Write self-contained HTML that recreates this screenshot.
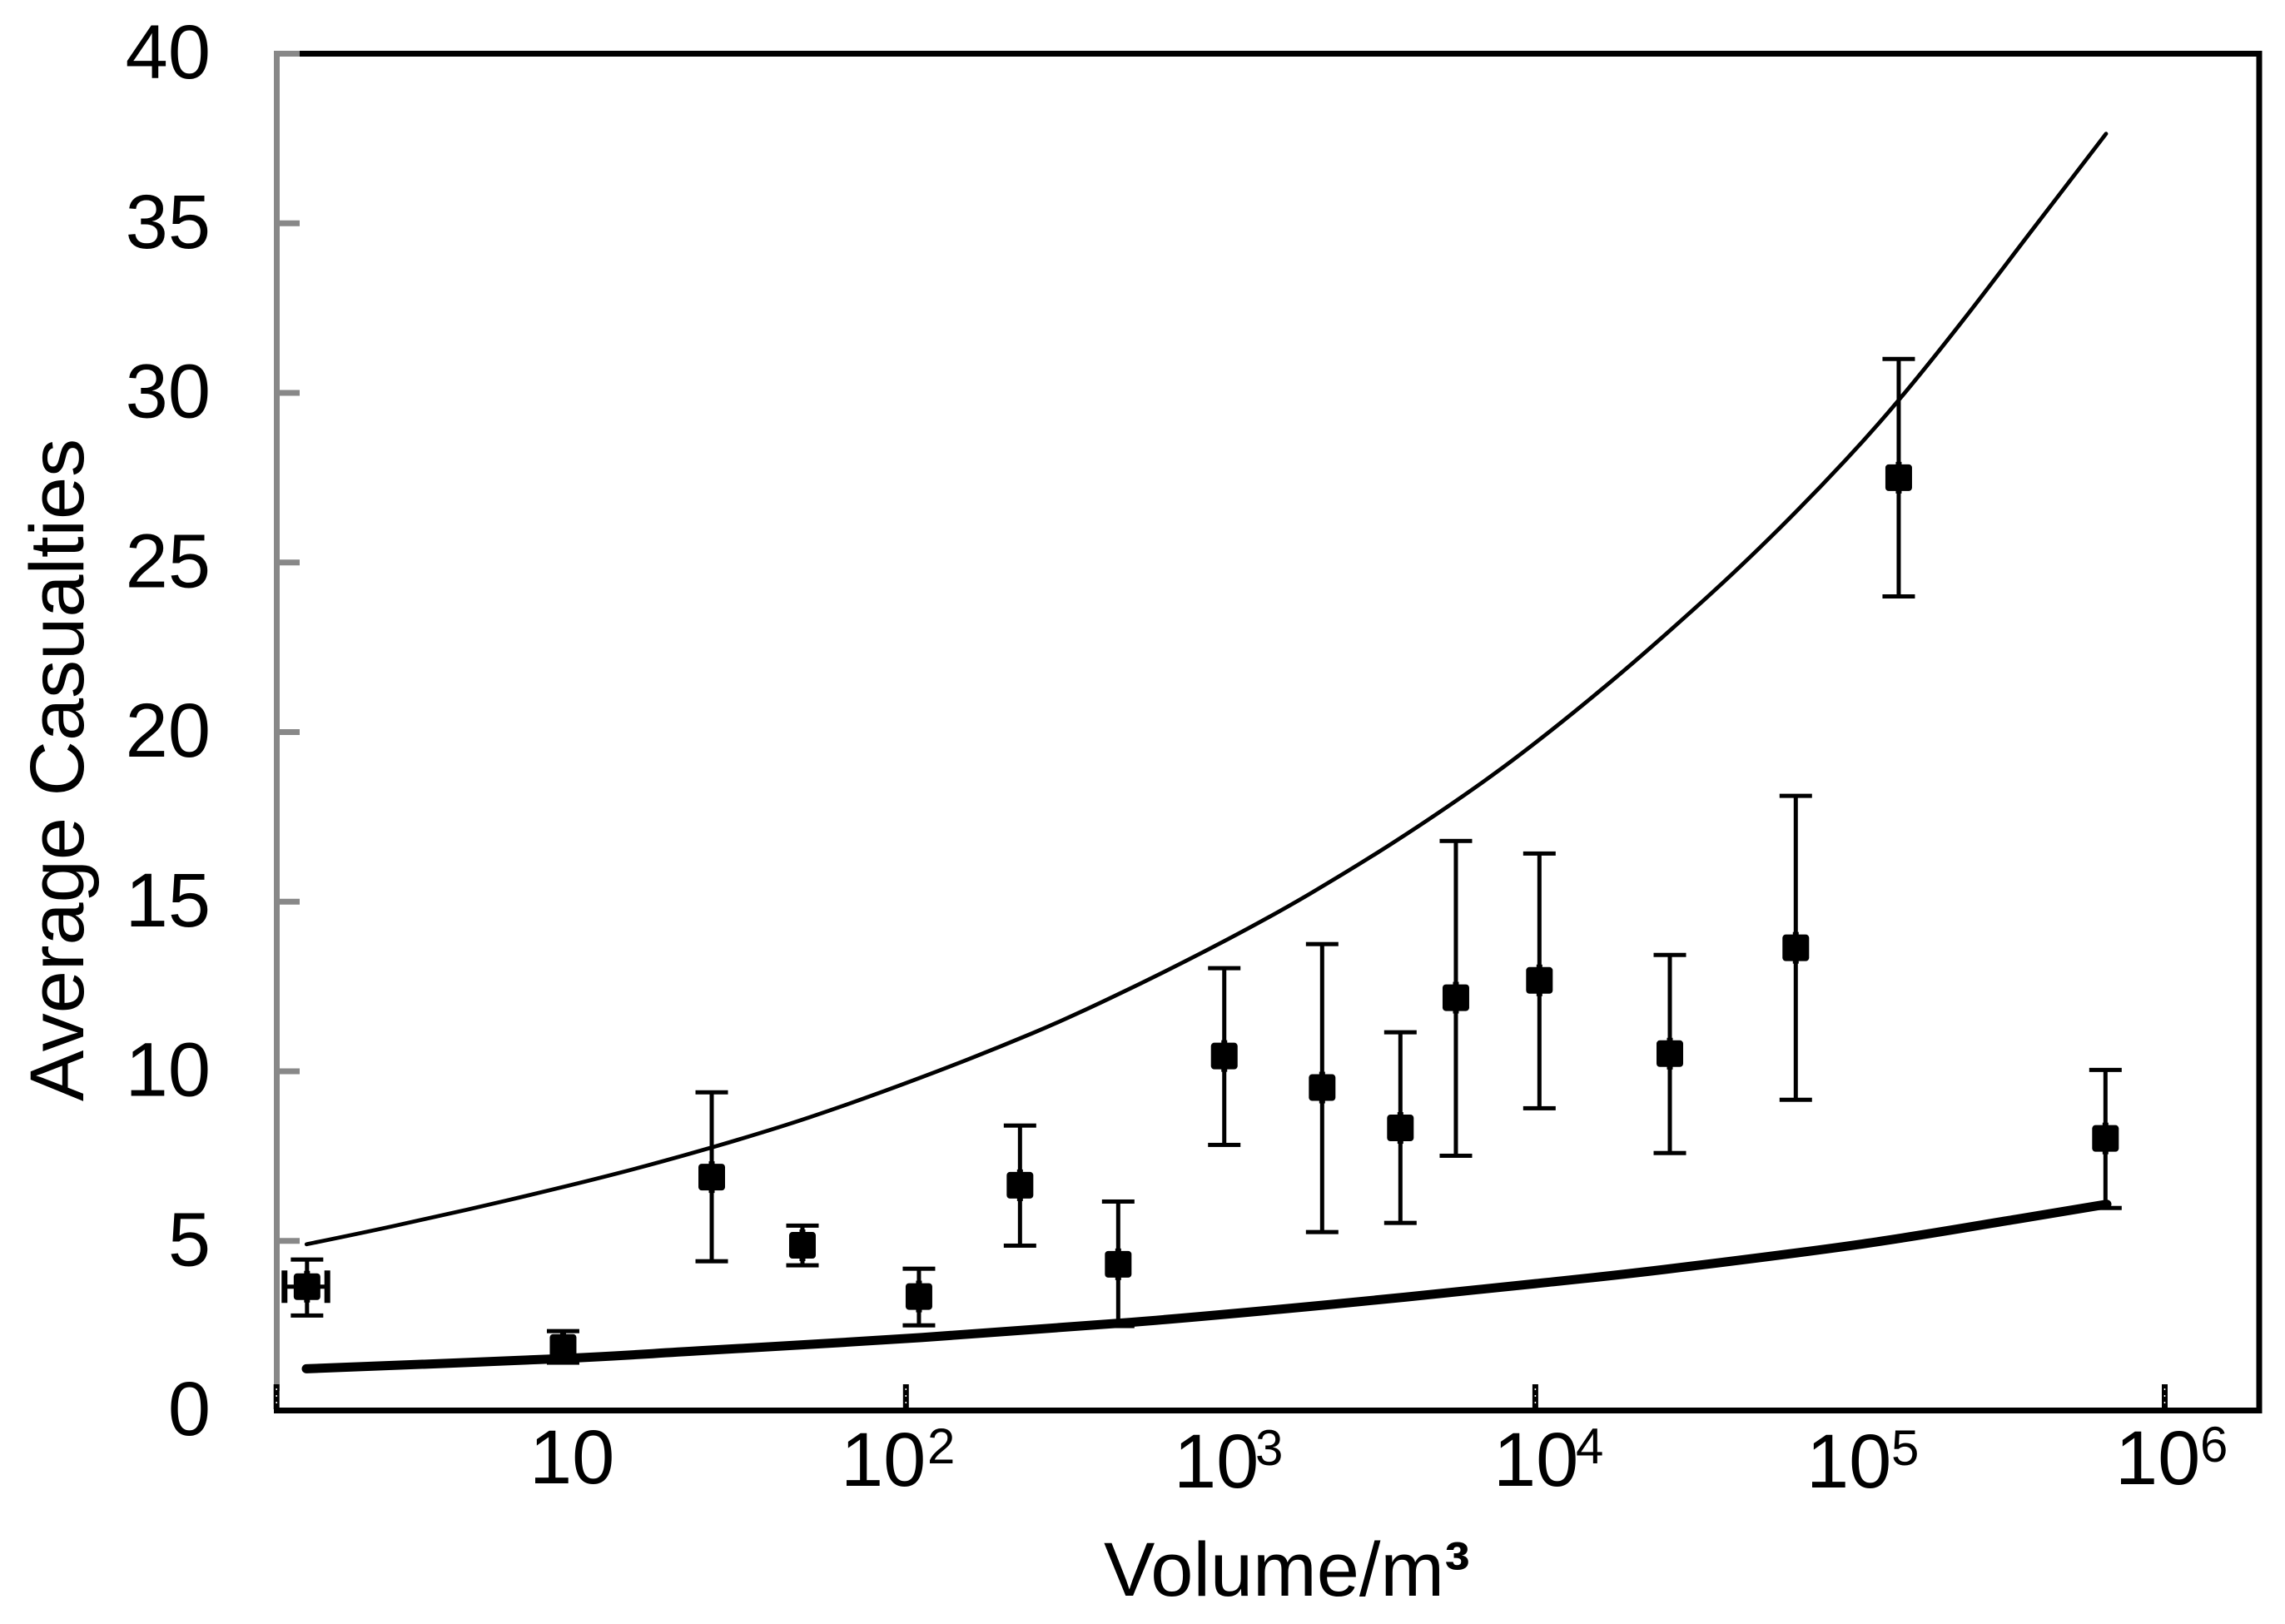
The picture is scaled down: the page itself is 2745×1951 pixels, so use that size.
<!DOCTYPE html>
<html lang="en">
<head>
<meta charset="utf-8">
<title>Average Casualties vs Volume</title>
<style>
html,body{margin:0;padding:0;background:#fff;width:2745px;height:1951px;overflow:hidden}
svg{display:block}
text{font-family:"Liberation Sans",Arial,sans-serif;fill:#000}
</style>
</head>
<body>
<svg id="chart" xmlns="http://www.w3.org/2000/svg" width="2745" height="1951" viewBox="0 0 2745 1951">
  <rect x="0" y="0" width="2745" height="1951" fill="#fff"/>
  <g id="plot"></g>
  <g font-size="92">
    <text x="636" y="1782">10</text>
    <g><text x="1010" y="1785">10</text><text x="1114" y="1758" font-size="60">2</text></g>
    <g><text x="1410" y="1787">10</text><text x="1508" y="1760" font-size="60">3</text></g>
    <g><text x="1794" y="1785">10</text><text x="1893" y="1758" font-size="60">4</text></g>
    <g><text x="2170" y="1787">10</text><text x="2272" y="1760" font-size="60">5</text></g>
    <g><text x="2541" y="1783">10</text><text x="2643" y="1756" font-size="60">6</text></g>
  </g>
  <text x="1326" y="1917" font-size="92">Volume/m<tspan font-weight="bold">³</tspan></text>
  <text transform="translate(100,1323) rotate(-90)" font-size="92">Average Casualties</text>
</svg>
<script>
// Measured data (volume in m³, casualties)
const pointVolume = [1.25, 8.14, 24.15, 46.9, 110, 230.4, 472.7, 1027, 2102, 3726, 5592, 10304, 26760, 67240, 142800, 648200];
const pointAverage = [3.65, 1.86, 6.88, 4.87, 3.36, 6.64, 4.31, 10.45, 9.52, 8.33, 12.17, 12.68, 10.52, 13.64, 27.5, 8.02];
const errorUpper = [4.45, 2.34, 9.38, 5.45, 4.18, 8.4, 6.16, 13.04, 13.75, 11.15, 16.79, 16.42, 13.43, 18.12, 31.0, 10.04];
const errorLower = [2.8, 1.41, 4.4, 4.28, 2.51, 4.86, 2.49, 7.83, 5.26, 5.53, 7.51, 8.91, 7.59, 9.16, 24.0, 5.97];
const xErrorVolumeLow = [1.06];
const xErrorVolumeHigh = [1.45];

const upperCurveVolume = [1.246, 2.362, 5.323, 11.99, 24.89, 49.63, 111.9, 251.9, 463.1, 1043, 1918, 3905, 7947, 16640, 34980, 58110, 96560, 142000, 225600, 376300, 651000];
const upperCurveValue = [4.9, 5.44, 6.18, 6.98, 7.79, 8.65, 9.82, 11.12, 12.23, 13.87, 15.23, 17.0, 18.98, 21.34, 23.96, 25.9, 28.01, 29.76, 32.07, 34.76, 37.64];
const lowerCurveVolume = [1.244, 7.986, 22.04, 111.9, 523.3, 2257, 10007, 25800, 109600, 338500, 654900];
const lowerCurveValue = [1.23, 1.53, 1.76, 2.15, 2.6, 3.13, 3.74, 4.16, 4.91, 5.64, 6.08];

const yTicks = [0, 5, 10, 15, 20, 25, 30, 35, 40];
const xTicks = [1, 100, 10000, 1000000];

// Axis functions
function xAxis(volume) { return 332.2 + 378.05 * Math.log10(volume); }
function yAxis(value) { return 1694.5 - 40.75 * value; }

const SVGNS = 'http://www.w3.org/2000/svg';
const plot = document.getElementById('plot');
function make(tag, attrs, parent) {
  const el = document.createElementNS(SVGNS, tag);
  for (const k in attrs) el.setAttribute(k, attrs[k]);
  (parent || plot).appendChild(el);
  return el;
}
function smoothPath(xs, ys) {
  const p = xs.map((v, i) => [xAxis(v), yAxis(ys[i])]);
  let d = 'M' + p[0][0].toFixed(1) + ' ' + p[0][1].toFixed(1);
  for (let i = 0; i < p.length - 1; i++) {
    const a = p[Math.max(i - 1, 0)], b = p[i], c = p[i + 1], e = p[Math.min(i + 2, p.length - 1)];
    const c1x = b[0] + (c[0] - a[0]) / 6, c1y = b[1] + (c[1] - a[1]) / 6;
    const c2x = c[0] - (e[0] - b[0]) / 6, c2y = c[1] - (e[1] - b[1]) / 6;
    d += 'C' + c1x.toFixed(1) + ' ' + c1y.toFixed(1) + ' ' + c2x.toFixed(1) + ' ' + c2y.toFixed(1) + ' ' + c[0].toFixed(1) + ' ' + c[1].toFixed(1);
  }
  return d;
}

// Frame
const frameTop = make('rect', {x: 360, y: 61, width: 2357.5, height: 7, fill: '#000'});


const frameRight = make('rect', {x: 2710.5, y: 61, width: 7, height: 1637, fill: '#000'});


const frameBottom = make('rect', {x: 329, y: 1691, width: 2388.5, height: 7, fill: '#000'});


const frameLeft = make('rect', {x: 329, y: 61, width: 7, height: 1610, fill: '#888'});



// Y ticks and labels
yTicks.forEach(function (t) {
  const y = yAxis(t);
  if (t > 0) {
    const tick = make('rect', {x: 336, y: y - 3.5, width: 24, height: 7, fill: '#888'});
    
    
  }
  const label = make('text', {x: 253, y: y + 29.5, 'font-size': 92, 'text-anchor': 'end'});
  
  
  label.textContent = String(t);
});

// X ticks (dark with fine specks)
xTicks.forEach(function (t) {
  const x = xAxis(t);
  const tick = make('rect', {x: x - 3.5, y: 1663, width: 7, height: 30, fill: '#000'});
  
  
  const speck = make('line', {x1: x, y1: 1668, x2: x, y2: 1691, stroke: '#fff', 'stroke-width': 1.5, 'stroke-dasharray': '2 6'});
  
  
});

// Curves
const upperCurve = make('path', {d: smoothPath(upperCurveVolume, upperCurveValue), fill: 'none', stroke: '#000', 'stroke-width': 4.8, 'stroke-linecap': 'round', 'stroke-linejoin': 'round'});


const lowerCurve = make('path', {d: smoothPath(lowerCurveVolume, lowerCurveValue), fill: 'none', stroke: '#000', 'stroke-width': 11, 'stroke-linecap': 'round', 'stroke-linejoin': 'round'});



// Points with error bars
pointVolume.forEach(function (v, i) {
  const x = xAxis(v), y = yAxis(pointAverage[i]), yTop = yAxis(errorUpper[i]), yBot = yAxis(errorLower[i]);
  const stem = make('rect', {x: x - 2.5, y: yTop, width: 5, height: yBot - yTop, fill: '#000'});
  
  
  const capTop = make('rect', {x: x - 19.5, y: yTop - 2.5, width: 39, height: 5, fill: '#000'});
  
  
  const capBottom = make('rect', {x: x - 19.5, y: yBot - 2.5, width: 39, height: 5, fill: '#000'});
  
  
  if (xErrorVolumeLow[i] !== undefined) {
    const xa = xAxis(xErrorVolumeLow[i]), xb = xAxis(xErrorVolumeHigh[i]);
    const hBar = make('rect', {x: xa, y: y - 2.5, width: xb - xa, height: 5, fill: '#000'});
    
    
    const capLeft = make('rect', {x: xa - 3.5, y: y - 19.5, width: 7, height: 39, fill: '#000'});
    
    
    const capRight = make('rect', {x: xb - 3.5, y: y - 19.5, width: 7, height: 39, fill: '#000'});
    
    
  }
  const nub = make('rect', {x: x - 3.5, y: y - 19, width: 7, height: 38, fill: '#000'});
  
  
  const marker = make('rect', {x: x - 16, y: y - 16, width: 32, height: 32, rx: 4, ry: 4, fill: '#000'});
  
  
});
</script>
</body>
</html>
